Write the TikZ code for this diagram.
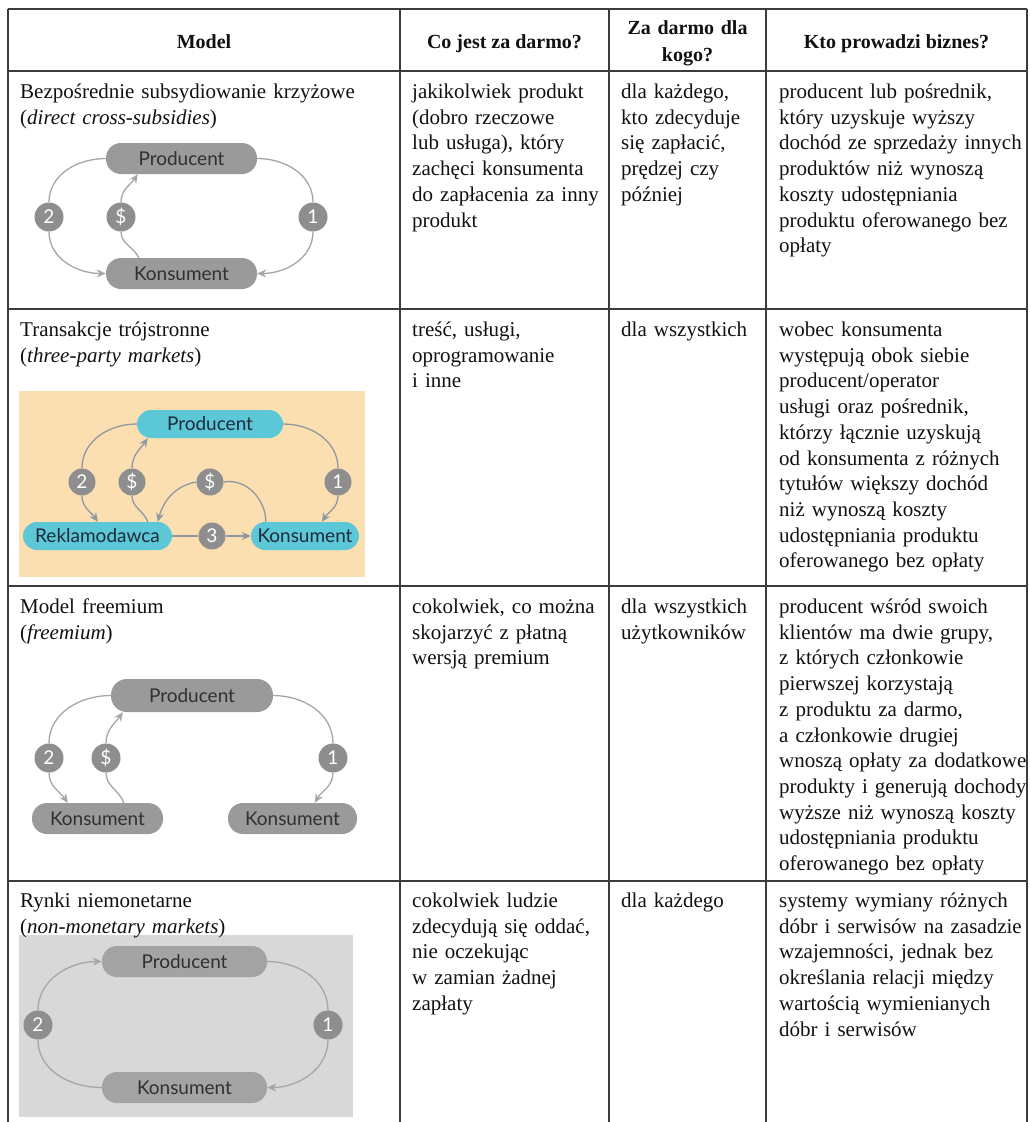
\documentclass[tikz,border=0pt]{standalone}
\usepackage{fontspec}
\setmainfont{Liberation Serif}
\newfontfamily\lato{Lato}
\usetikzlibrary{arrows.meta}
\definecolor{rulec}{HTML}{3C3C3C}
\definecolor{textc}{HTML}{111111}
\definecolor{pillgray}{HTML}{9A9A9A}
\definecolor{pilltext}{HTML}{303030}
\definecolor{numgray}{HTML}{8E8E8E}
\definecolor{linegray}{HTML}{A6A6A6}
\definecolor{beige}{HTML}{FCDFB1}
\definecolor{cyanpill}{HTML}{5CC7D7}
\definecolor{navytext}{HTML}{1E2B3A}
\definecolor{bline}{HTML}{8E98A2}
\definecolor{lightbg}{HTML}{D8D8D8}
\definecolor{dpillc}{HTML}{A3A3A3}
\begin{document}
\begin{tikzpicture}[x=1pt,y=-1pt,
  body/.style={anchor=base west, inner sep=0pt, text width=385pt, align=left,
    font=\fontsize{21}{25.7}\selectfont, text=textc},
  head/.style={anchor=base, inner sep=0pt, align=center,
    font=\bfseries\fontsize{20}{27}\selectfont, text=textc},
  pill/.style={rectangle, rounded corners=15pt, fill=pillgray, text=pilltext,
    inner sep=0pt, minimum height=31pt, font=\lato\fontsize{19}{22}\selectfont},
  cpill/.style={pill, fill=cyanpill, text=navytext, rounded corners=14pt, minimum height=28pt},
  dpill/.style={pill, fill=dpillc},
  num/.style={circle, fill=numgray, text=white, inner sep=0pt, minimum size=29pt,
    font=\lato\fontsize{19}{22}\selectfont},
  bnum/.style={num, minimum size=27pt},
  conn/.style={draw=linegray, line width=1.3pt},
  arr/.style={conn, -{Stealth[length=9pt,width=8pt]}},
  bconn/.style={draw=bline, line width=1.3pt},
  barr/.style={bconn, -{Stealth[length=9pt,width=8pt]}},
  rulel/.style={draw=rulec, line width=1.5pt}
]
\useasboundingbox (0,0) rectangle (1030,1122);
\fill[white] (0,0) rectangle (1030,1122);

% ---------- table rules ----------
\foreach \yy in {9,71,309,586,881} \draw[rulel] (8,\yy) -- (1027,\yy);
\foreach \xx in {8,400,609,766,1027} \draw[rulel] (\xx,9) -- (\xx,1122);

% ---------- header ----------
\node[head] (hModel) at (204,48.5) {Model};
\node[head] (hCo) at (504.5,48.5) {Co jest za darmo?};
\node[head, text width=157pt] (hZa) at (687.5,34.5) {Za darmo dla\\kogo?};
\node[head] (hKto) at (896.5,48.5) {Kto prowadzi biznes?};

% ---------- row 1 ----------
\node[body] (r1a) at (20,98.5) {Bezpośrednie subsydiowanie krzyżowe\\(\textit{direct cross-subsidies})};
\node[body] (r1b) at (412,98.5) {jakikolwiek produkt\\(dobro rzeczowe\\lub usługa), który\\zachęci konsumenta\\do zapłacenia za inny\\produkt};
\node[body] (r1c) at (621,98.5) {dla każdego,\\kto zdecyduje\\się zapłacić,\\prędzej czy\\później};
\node[body] (r1d) at (779,98.5) {producent lub pośrednik,\\który uzyskuje wyższy\\dochód ze sprzedaży innych\\produktów niż wynoszą\\koszty udostępniania\\produktu oferowanego bez\\opłaty};

\node[pill, minimum width=151pt] (aP) at (181.5,158.5) {Producent};
\node[pill, minimum width=151pt] (aK) at (181.5,273.5) {Konsument};
\node[num] (a2) at (49,217) {2};
\node[num] (aS) at (121,217) {\$};
\node[num] (a1) at (313,217) {1};
\draw[conn] (aP.west) to[out=180,in=90] (a2.north);
\draw[arr] (a2.south) to[out=-90,in=180] (aK.west);
\draw[conn] (aP.east) to[out=0,in=90] (a1.north);
\draw[arr] (a1.south) to[out=-90,in=0] (aK.east);
\draw[conn] ([xshift=33pt]aK.north west) to[out=115,in=-90] (aS.south);
\draw[arr] (aS.north) to[out=90,in=236] ([xshift=32pt]aP.south west);

% ---------- row 2 ----------
\node[body] (r2a) at (20,336.5) {Transakcje trójstronne\\(\textit{three-party markets})};
\node[body] (r2b) at (412,336.5) {treść, usługi,\\oprogramowanie\\i inne};
\node[body] (r2c) at (621,336.5) {dla wszystkich};
\node[body] (r2d) at (779,336.5) {wobec konsumenta\\występują obok siebie\\producent/operator\\usługi oraz pośrednik,\\którzy łącznie uzyskują\\od konsumenta z różnych\\tytułów większy dochód\\niż wynoszą koszty\\udostępniania produktu\\oferowanego bez opłaty};

\fill[beige] (19,391) rectangle (365,577);
\node[cpill, minimum width=146pt] (bP) at (210,424) {Producent};
\node[cpill, minimum width=149pt] (bR) at (97.5,536) {Reklamodawca};
\node[cpill, minimum width=108pt] (bK) at (305,536) {Konsument};
\node[bnum] (b2) at (82,482) {2};
\node[bnum] (bS1) at (132,482) {\$};
\node[bnum] (bS2) at (210,482) {\$};
\node[bnum] (b1) at (338,482) {1};
\node[bnum] (b3) at (212,536) {3};
\draw[bconn] (bP.west) to[out=180,in=90] (b2.north);
\draw[barr] (b2.south) to[out=-90,in=124] ([xshift=75pt]bR.north west);
\draw[bconn] ([xshift=125pt]bR.north west) to[out=110,in=-90] (bS1.south);
\draw[barr] (bS1.north) to[out=90,in=235] ([xshift=11pt]bP.south west);
\draw[bconn] (bS2.east) to[out=10,in=90] ([xshift=15pt]bK.north west);
\draw[barr] (bS2.west) to[out=190,in=75] ([xshift=135pt]bR.north west);
\draw[bconn] (bP.east) to[out=0,in=90] (b1.north);
\draw[barr] (b1.south) to[out=-90,in=56] ([xshift=71pt]bK.north west);
\draw[bconn] (bR.east) -- (b3.west);
\draw[barr] (b3.east) -- (bK.west);

% ---------- row 3 ----------
\node[body] (r3a) at (20,613.5) {Model freemium\\(\textit{freemium})};
\node[body] (r3b) at (412,613.5) {cokolwiek, co można\\skojarzyć z płatną\\wersją premium};
\node[body] (r3c) at (621,613.5) {dla wszystkich\\użytkowników};
\node[body] (r3d) at (779,613.5) {producent wśród swoich\\klientów ma dwie grupy,\\z których członkowie\\pierwszej korzystają\\z produktu za darmo,\\a członkowie drugiej\\wnoszą opłaty za dodatkowe\\produkty i generują dochody\\wyższe niż wynoszą koszty\\udostępniania produktu\\oferowanego bez opłaty};

\node[pill, minimum width=162pt, minimum height=33pt, rounded corners=16pt] (cP) at (192,695.5) {Producent};
\node[pill, minimum width=131pt] (cK1) at (97.5,818.5) {Konsument};
\node[pill, minimum width=129pt] (cK2) at (292.5,818.5) {Konsument};
\node[num] (c2) at (49,758) {2};
\node[num] (cS) at (106,758) {\$};
\node[num] (c1) at (333,758) {1};
\draw[conn] (cP.west) to[out=180,in=90] (c2.north);
\draw[arr] (c2.south) to[out=-90,in=125] ([xshift=36pt]cK1.north west);
\draw[conn] ([xshift=92pt]cK1.north west) to[out=110,in=-90] (cS.south);
\draw[arr] (cS.north) to[out=90,in=235] ([xshift=12pt]cP.south west);
\draw[conn] (cP.east) to[out=0,in=90] (c1.north);
\draw[arr] (c1.south) to[out=-90,in=60] ([xshift=87pt]cK2.north west);

% ---------- row 4 ----------
\fill[lightbg] (19,935) rectangle (353,1117);
\node[body] (r4a) at (20,907.5) {Rynki niemonetarne\\(\textit{non-monetary markets})};
\node[body] (r4b) at (412,907.5) {cokolwiek ludzie\\zdecydują się oddać,\\nie oczekując\\w zamian żadnej\\zapłaty};
\node[body] (r4c) at (621,907.5) {dla każdego};
\node[body] (r4d) at (779,907.5) {systemy wymiany różnych\\dóbr i serwisów na zasadzie\\wzajemności, jednak bez\\określania relacji między\\wartością wymienianych\\dóbr i serwisów};

\node[dpill, minimum width=165pt] (dP) at (184.5,961.5) {Producent};
\node[dpill, minimum width=165pt] (dK) at (184.5,1087.5) {Konsument};
\node[num] (d2) at (38,1025) {2};
\node[num] (d1) at (328,1025) {1};
\draw[conn] (dK.west) to[out=180,in=-90] (d2.south);
\draw[arr] (d2.north) to[out=90,in=180] (dP.west);
\draw[conn] (dP.east) to[out=0,in=90] (d1.north);
\draw[arr] (d1.south) to[out=-90,in=0] (dK.east);
\end{tikzpicture}
\end{document}
